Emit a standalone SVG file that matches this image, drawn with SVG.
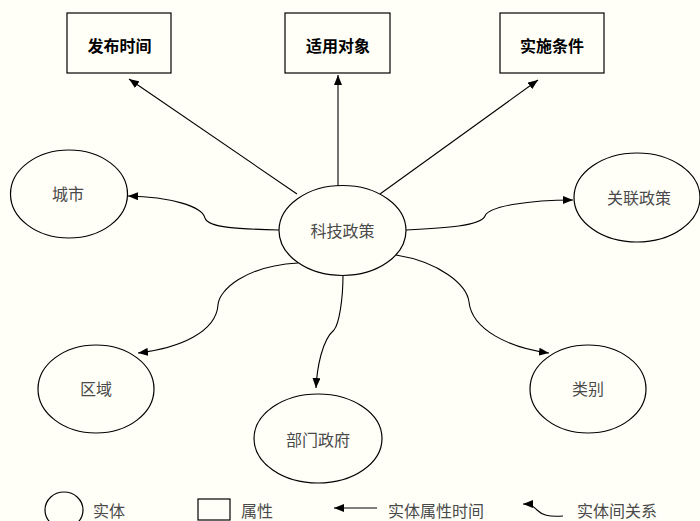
<svg xmlns="http://www.w3.org/2000/svg" width="700" height="521" viewBox="0 0 700 521">
<defs>
<marker id="ah" viewBox="0 0 10 8" refX="10" refY="4" markerWidth="10" markerHeight="8" markerUnits="userSpaceOnUse" orient="auto">
<path d="M0,0 L10,4 L0,8 z" fill="#000"/>
</marker>
<style>
.ent{fill:none;stroke:#000;stroke-width:1.2}
.attr{fill:none;stroke:#000;stroke-width:1.2}
.lbl{font-family:"Noto Sans CJK SC","Noto Sans",sans-serif;font-size:16px;fill:#4a4a4a;text-anchor:middle;dominant-baseline:central}
.blbl{font-family:"Noto Sans CJK SC","Noto Sans",sans-serif;font-size:16px;font-weight:bold;fill:#000;text-anchor:middle;dominant-baseline:central}
.leg{font-family:"Noto Sans CJK SC","Noto Sans",sans-serif;font-size:16px;fill:#4a4a4a;dominant-baseline:central}
.con{fill:none;stroke:#000;stroke-width:1.1;marker-end:url(#ah)}
</style>
</defs>
<rect width="700" height="521" fill="#FFFFF8"/>
<g id="connectors">
<path class="con" d="M297,194 L129,79"/>
<path class="con" d="M338,186 L338,75"/>
<path class="con" d="M380,194 L538,80"/>
<path class="con" d="M279,230 C240,229 208,228 205,218 C202,206 170,197 128,196"/>
<path class="con" d="M406,230 C445,228 481,226 485,216 C489,206 530,200 573,200"/>
<path class="con" d="M298,263 C245,266 219,290 218,305 C216,332 180,348 138,353"/>
<path class="con" d="M343,275 C343,300 339,324 334,330 C322,340 317,368 316,388"/>
<path class="con" d="M396,255 C440,262 467,285 469,302 C472,330 510,348 549,353"/>
</g>
<g id="attr-fabushijian">
<rect class="attr" x="67" y="13" width="104" height="60"/>
<text class="blbl" x="119.5" y="45">发布时间</text>
</g>
<g id="attr-shiyongduixiang">
<rect class="attr" x="285" y="13" width="105" height="60"/>
<text class="blbl" x="338" y="45">适用对象</text>
</g>
<g id="attr-shishitiaojian">
<rect class="attr" x="500" y="13" width="104" height="60"/>
<text class="blbl" x="552" y="45">实施条件</text>
</g>
<g id="ent-kejizhengce">
<ellipse class="ent" cx="342.5" cy="230.5" rx="63.5" ry="45"/>
<text class="lbl" x="342.5" y="230">科技政策</text>
</g>
<g id="ent-chengshi">
<ellipse class="ent" cx="69" cy="194" rx="58.5" ry="44"/>
<text class="lbl" x="68" y="193">城市</text>
</g>
<g id="ent-guanlianzhengce">
<ellipse class="ent" cx="637" cy="197.5" rx="63" ry="44.5"/>
<text class="lbl" x="639" y="197">关联政策</text>
</g>
<g id="ent-quyu">
<ellipse class="ent" cx="96" cy="389" rx="58" ry="44"/>
<text class="lbl" x="96" y="388">区域</text>
</g>
<g id="ent-bumenzhengfu">
<ellipse class="ent" cx="318" cy="438.5" rx="64" ry="44.5"/>
<text class="lbl" x="318" y="439">部门政府</text>
</g>
<g id="ent-leibie">
<ellipse class="ent" cx="588" cy="389" rx="58" ry="44"/>
<text class="lbl" x="588" y="388">类别</text>
</g>
<g id="legend">
<ellipse class="ent" cx="64" cy="510" rx="19" ry="18"/>
<text class="leg" x="93" y="510">实体</text>
<rect class="attr" x="198" y="499" width="32" height="21"/>
<text class="leg" x="241" y="510">属性</text>
<path class="con" d="M377,508 L334,508"/>
<text class="leg" x="388" y="510">实体属性时间</text>
<path class="con" d="M563,516 C548,517 542,515 537,510 C533,506 530,504 523,504"/>
<text class="leg" x="577" y="510">实体间关系</text>
</g>
</svg>
